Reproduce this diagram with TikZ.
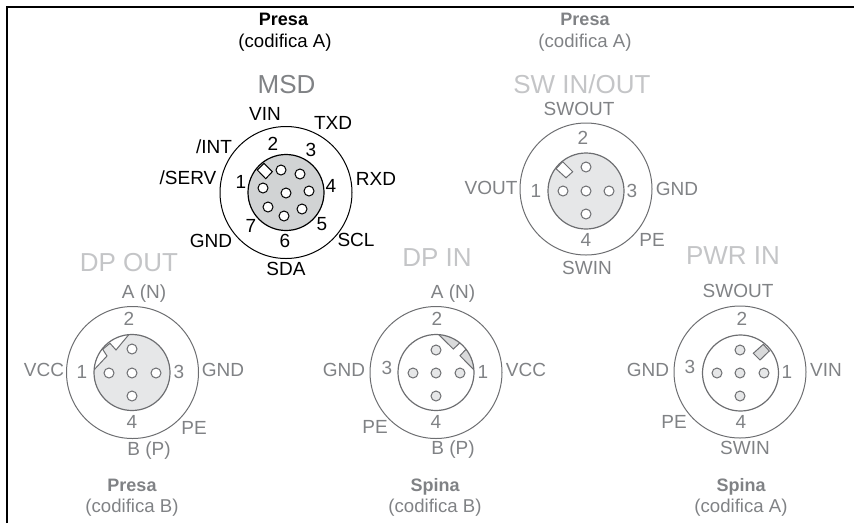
\documentclass[tikz,border=0pt]{standalone}
\usepackage{fontspec}
\setmainfont{Liberation Sans}
\definecolor{lblgrey}{HTML}{808285}
\definecolor{ttlgrey}{HTML}{C4C5C7}
\definecolor{linegrey}{HTML}{6D6E71}
\definecolor{faceA}{HTML}{D1D3D4}
\definecolor{faceB}{HTML}{E6E7E8}
\definecolor{keyfill}{HTML}{D9DADB}
\tikzset{
  txtbase/.style={inner sep=0pt,outer sep=0pt,anchor=center,text depth=0pt},
  ttltxt/.style={txtbase,text height=18.5pt,font=\fontsize{26}{26}\selectfont},
  lbltxt/.style={txtbase,text height=13.6pt,font=\fontsize{19}{19}\selectfont},
  captxt/.style={txtbase,text height=13pt,font=\fontsize{18}{18}\selectfont\bfseries},
  subtxt/.style={txtbase,text height=13.4pt,font=\fontsize{18.6}{18.6}\selectfont},
  ringc/.style={circle,draw,inner sep=0pt,outer sep=0pt,line width=1pt,minimum size=132pt},
  facec/.style={circle,draw,inner sep=0pt,outer sep=0pt,line width=1.2pt,minimum size=76pt},
  pinhole/.style={circle,draw,inner sep=0pt,outer sep=0pt,line width=1pt,minimum size=10pt},
  keyline/.style={line width=1pt,line join=miter}
}
\begin{document}
\begin{tikzpicture}[x=1pt,y=-1pt]
\useasboundingbox (0,0) rectangle (854,523);
% frame
\draw[line width=2pt,black] (7,523) -- (7,7) -- (854,7);

% ---------- MSD ----------
\node[captxt,black] (msdcap) at (283.5,19) {Presa};
\node[subtxt,black] (msdsub) at (285,41) {(codifica A)};
\node[ttltxt,lblgrey] (msdttl) at (286.5,84) {MSD};
\node[ringc,black] (msdo) at (286,192.5) {};
\node[facec,black,fill=faceA] (msdi) at (286,192.5) {};
\draw[keyline,black,fill=white] (257.3,170) -- (264,163.3) -- (272.3,171.7) -- (265.7,178.7) -- cycle;
\begin{scope}[every node/.style={pinhole,black,fill=white}]
\node (m1) at (281,170) {}; \node (m2) at (300,174) {}; \node (m3) at (263,188) {};
\node (m4) at (286,193) {}; \node (m5) at (309,191) {}; \node (m6) at (268,207) {};
\node (m7) at (302,209) {}; \node (m8) at (284,216) {};
\end{scope}
\begin{scope}[every node/.style={lbltxt,black}]
\node (mVIN) at (265,114) {VIN}; \node (mTXD) at (333,123) {TXD};
\node (mINT) at (214,147) {/INT}; \node (mSERV) at (188,178) {/SERV};
\node (mRXD) at (376,179) {RXD}; \node (mGND) at (211,241) {GND};
\node (mSCL) at (356,240) {SCL}; \node (mSDA) at (286,269) {SDA};
\node (mn2) at (273,144) {2}; \node (mn3) at (311,150) {3};
\node (mn1) at (241,182) {1}; \node (mn4) at (331,186) {4};
\node (mn7) at (251,226) {7}; \node (mn6) at (285,241) {6};
\node (mn5) at (322,224) {5};
\end{scope}

% ---------- SW IN/OUT ----------
\node[captxt,lblgrey] (swcap) at (585,19) {Presa};
\node[subtxt,lblgrey] (swsub) at (585,41) {(codifica A)};
\node[ttltxt,ttlgrey] (swttl) at (582,84) {SW IN/OUT};
\node[ringc,linegrey] (swo) at (586,189) {};
\node[facec,linegrey,fill=faceB] (swi) at (586,191) {};
\draw[keyline,linegrey,fill=white] (556,168.7) -- (562.7,161.7) -- (572.7,171.7) -- (566,177.8) -- cycle;
\begin{scope}[every node/.style={pinhole,linegrey,fill=white}]
\node (s1) at (586,167) {}; \node (s2) at (563,191) {}; \node (s3) at (586,191) {};
\node (s4) at (609,191) {}; \node (s5) at (586,214) {};
\end{scope}
\begin{scope}[every node/.style={lbltxt,lblgrey}]
\node (sSWOUT) at (579,109) {SWOUT}; \node (sVOUT) at (491,188) {VOUT};
\node (sGND) at (677,189) {GND}; \node (sPE) at (652,240) {PE};
\node (sSWIN) at (587,268) {SWIN};
\node (sn2) at (583,138) {2}; \node (sn1) at (536,191) {1};
\node (sn3) at (632,191) {3}; \node (sn4) at (586,240) {4};
\end{scope}

% ---------- DP OUT ----------
\node[ttltxt,ttlgrey] (dottl) at (129,262) {DP OUT};
\node[ringc,linegrey] (doo) at (132.5,372.5) {};
\fill[faceB] (132,372.5) circle [radius=38];
\begin{scope}
\clip (132,372.5) circle [radius=38];
\fill[white] (131,332) -- (116,350) -- (110,343.3) -- (102.7,349.3) -- (107,356) -- (92,372) -- (85,330) -- cycle;
\draw[keyline,linegrey] (131,332) -- (116,350) -- (110,343.3) -- (102.7,349.3) -- (107,356) -- (92,372);
\end{scope}
\node[facec,linegrey] (doi) at (132,372.5) {};
\begin{scope}[every node/.style={pinhole,linegrey,fill=white}]
\node (d1) at (132,349) {}; \node (d2) at (109,373) {}; \node (d3) at (132,373) {};
\node (d4) at (156,373) {}; \node (d5) at (132,396) {};
\end{scope}
\begin{scope}[every node/.style={lbltxt,lblgrey}]
\node (dAN) at (144,292) {A (N)}; \node (dVCC) at (44,370) {VCC};
\node (dGND) at (223,370) {GND}; \node (dPE) at (194,428) {PE};
\node (dBP) at (149,449) {B (P)};
\node (dn2) at (129,319) {2}; \node (dn1) at (82,372) {1};
\node (dn3) at (179,372) {3}; \node (dn4) at (132,422) {4};
\end{scope}
\node[captxt,lblgrey] (docap) at (132,485) {Presa};
\node[subtxt,lblgrey] (dosub) at (132,506) {(codifica B)};

% ---------- DP IN ----------
\node[ttltxt,ttlgrey] (dittl) at (437,257) {DP IN};
\node[ringc,linegrey] (dio) at (436,372.5) {};
\begin{scope}
\clip (436,372.5) circle [radius=38];
\fill[keyfill] (437,333) -- (453.3,349) -- (458.7,344) -- (462,340) -- (445,325) -- cycle;
\fill[keyfill] (465.3,350) -- (460,355.7) -- (475,371) -- (480,355) -- (469,346) -- cycle;
\draw[keyline,linegrey] (437,333) -- (453.3,349) -- (458.7,344) -- (462,340);
\draw[keyline,linegrey] (469,346) -- (465.3,350) -- (460,355.7) -- (475,371);
\end{scope}
\node[facec,linegrey] (dii) at (436,372.5) {};
\begin{scope}[every node/.style={pinhole,linegrey,fill=faceB}]
\node (i1) at (436,350) {}; \node (i2) at (413,373) {}; \node (i3) at (436,373) {};
\node (i4) at (460,373) {}; \node (i5) at (436,396) {};
\end{scope}
\begin{scope}[every node/.style={lbltxt,lblgrey}]
\node (iAN) at (453,292) {A (N)}; \node (iGND) at (344,370) {GND};
\node (iVCC) at (526,370) {VCC}; \node (iPE) at (375,427) {PE};
\node (iBP) at (453,448) {B (P)};
\node (in3) at (387,368) {3}; \node (in2) at (437,319) {2};
\node (in1) at (483,372) {1}; \node (in4) at (436,422) {4};
\end{scope}
\node[captxt,lblgrey] (dicap) at (435,485) {Spina};
\node[subtxt,lblgrey] (disub) at (435,506) {(codifica B)};

% ---------- PWR IN ----------
\node[ttltxt,ttlgrey] (pttl) at (733,255) {PWR IN};
\node[ringc,linegrey] (po) at (740,372) {};
\node[facec,linegrey] (pin1) at (740.5,373) {};
\draw[keyline,linegrey,fill=keyfill] (753.3,353.3) -- (763.3,344.3) -- (769.3,351) -- (760,360) -- cycle;
\begin{scope}[every node/.style={pinhole,linegrey,fill=faceB}]
\node (p1) at (740,350) {}; \node (p2) at (717,373) {}; \node (p3) at (740,373) {};
\node (p4) at (764,373) {}; \node (p5) at (740,396) {};
\end{scope}
\begin{scope}[every node/.style={lbltxt,lblgrey}]
\node (pSWOUT) at (738,291) {SWOUT}; \node (pGND) at (648,370) {GND};
\node (pVIN) at (826,370) {VIN}; \node (pPE) at (674,422) {PE};
\node (pSWIN) at (745,448) {SWIN};
\node (pn3) at (690,367) {3}; \node (pn2) at (742,319) {2};
\node (pn1) at (787,372) {1}; \node (pn4) at (741,422) {4};
\end{scope}
\node[captxt,lblgrey] (pcap) at (741,485) {Spina};
\node[subtxt,lblgrey] (psub) at (741,506) {(codifica A)};
\end{tikzpicture}
\end{document}
